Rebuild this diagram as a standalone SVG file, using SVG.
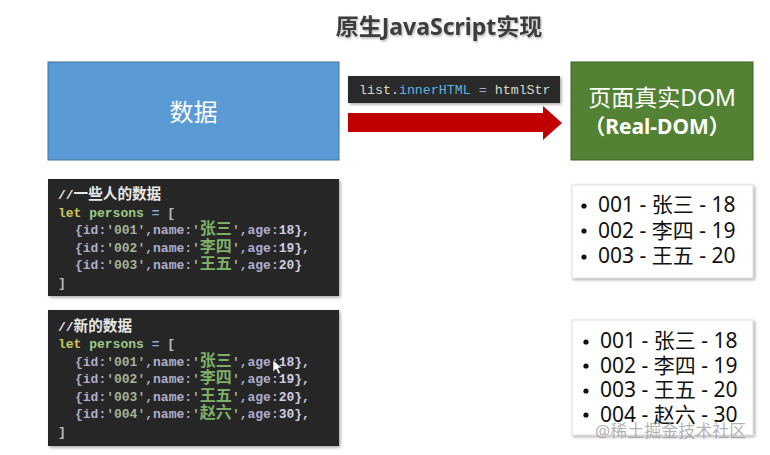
<svg xmlns="http://www.w3.org/2000/svg" width="770" height="455" viewBox="0 0 770 455">
<defs>
<filter id="sh" x="-10%" y="-10%" width="125%" height="130%">
<feDropShadow dx="1.5" dy="1.5" stdDeviation="1.8" flood-color="#000" flood-opacity="0.35"/>
</filter>
<filter id="tsh" x="-5%" y="-20%" width="110%" height="150%">
<feDropShadow dx="1" dy="1.5" stdDeviation="1.2" flood-color="#000" flood-opacity="0.3"/>
</filter>
</defs>
<style>
.code{font-family:"Liberation Mono","Noto Sans CJK SC",monospace;font-size:13px;font-weight:bold;fill:#aeaecb}
.cmt{fill:#e8e8e8}
.cjkc{font-family:"Noto Sans CJK SC",sans-serif;font-size:14.6px;font-weight:bold}
.kw{fill:#c8c85c}
.var{fill:#9cc98a}
.op{fill:#8fa9d6}
.br{fill:#bdbdbd}
.str{fill:#a3b39d}
.nm{fill:#7fae69;font-family:"Noto Sans CJK SC",sans-serif;font-size:16px}
.num{fill:#cfcfe6}
.list{font-family:"Noto Sans","Noto Sans CJK SC",sans-serif;font-size:21px;fill:#111}
.cbox{fill:#282828}
.lbox{fill:#fff;stroke:#d8d8d8;stroke-width:0.8}
</style>
<rect width="770" height="455" fill="#fff"/>

<g id="title">
<text x="439" y="35" text-anchor="middle" font-family="Noto Sans, Noto Sans CJK SC, sans-serif" font-size="23" font-weight="bold" fill="#3c3c3c" filter="url(#tsh)">原生JavaScript实现</text>
</g>

<g id="data">
<rect x="48" y="62" width="291" height="98" fill="#5b9bd5" stroke="#41719c" stroke-width="1"/>
<text x="193.5" y="121" text-anchor="middle" font-family="Noto Sans CJK SC, sans-serif" font-size="24" fill="#fff">数据</text>
</g>

<g id="realdom">
<rect x="571" y="62" width="182" height="98" fill="#548235" stroke="#3f6327" stroke-width="1"/>
<text x="662" y="106" text-anchor="middle" font-family="Noto Sans, Noto Sans CJK SC, sans-serif" font-size="23" fill="#fff">页面真实DOM</text>
<text x="657" y="134" text-anchor="middle" font-family="Noto Sans, Noto Sans CJK SC, sans-serif" font-size="21" font-weight="bold" fill="#fff">（Real-DOM）</text>
</g>

<g id="connectors">
<polygon points="348,113 543,113 543,106 562,123 543,140 543,132 348,132" fill="#c00000"/>
<g id="assign">
<rect x="348" y="76" width="212" height="27" fill="#2b2b2b" filter="url(#sh)"/>
<text x="359" y="94" font-family="Liberation Mono, monospace" font-size="13.3" fill="#d8d8c8">list.<tspan fill="#5fb3df">innerHTML</tspan><tspan fill="#a9a9d0"> = </tspan>htmlStr</text>
</g>
</g>

<g id="code1">
<rect class="cbox" x="48" y="179" width="291" height="117" filter="url(#sh)"/>
<text class="code cmt" x="58" y="199">//<tspan class="cjkc">一些人的数据</tspan></text>
<text class="code" x="58" y="216.5"><tspan class="kw">let</tspan> <tspan class="var">persons</tspan> <tspan class="op">=</tspan> <tspan class="br">[</tspan></text>
<text class="code" x="75" y="234">{id:<tspan class="str">'001'</tspan>,name:<tspan class="str">'</tspan><tspan class="nm">张三</tspan><tspan class="str">'</tspan>,age:<tspan class="num">18},</tspan></text>
<text class="code" x="75" y="251.5">{id:<tspan class="str">'002'</tspan>,name:<tspan class="str">'</tspan><tspan class="nm">李四</tspan><tspan class="str">'</tspan>,age:<tspan class="num">19},</tspan></text>
<text class="code" x="75" y="269">{id:<tspan class="str">'003'</tspan>,name:<tspan class="str">'</tspan><tspan class="nm">王五</tspan><tspan class="str">'</tspan>,age:<tspan class="num">20}</tspan></text>
<text class="code br" x="58" y="287">]</text>
</g>

<g id="code2">
<rect class="cbox" x="48" y="310" width="291" height="136" filter="url(#sh)"/>
<text class="code cmt" x="58" y="331">//<tspan class="cjkc">新的数据</tspan></text>
<text class="code" x="58" y="348"><tspan class="kw">let</tspan> <tspan class="var">persons</tspan> <tspan class="op">=</tspan> <tspan class="br">[</tspan></text>
<text class="code" x="75" y="365.5">{id:<tspan class="str">'001'</tspan>,name:<tspan class="str">'</tspan><tspan class="nm">张三</tspan><tspan class="str">'</tspan>,age:<tspan class="num">18},</tspan></text>
<text class="code" x="75" y="383">{id:<tspan class="str">'002'</tspan>,name:<tspan class="str">'</tspan><tspan class="nm">李四</tspan><tspan class="str">'</tspan>,age:<tspan class="num">19},</tspan></text>
<text class="code" x="75" y="400.5">{id:<tspan class="str">'003'</tspan>,name:<tspan class="str">'</tspan><tspan class="nm">王五</tspan><tspan class="str">'</tspan>,age:<tspan class="num">20},</tspan></text>
<text class="code" x="75" y="418">{id:<tspan class="str">'004'</tspan>,name:<tspan class="str">'</tspan><tspan class="nm">赵六</tspan><tspan class="str">'</tspan>,age:<tspan class="num">30},</tspan></text>
<text class="code br" x="58" y="435.5">]</text>
<path d="M273,360 L273,372 L276,369 L278.5,374 L280.5,373 L278,368 L282,368 Z" fill="#fff" stroke="#222" stroke-width="0.6"/>
</g>

<g id="list1">
<rect class="lbox" x="572" y="185" width="181" height="93" filter="url(#sh)"/>
<circle cx="584" cy="206" r="2.6" fill="#111"/>
<circle cx="584" cy="231" r="2.6" fill="#111"/>
<circle cx="584" cy="257" r="2.6" fill="#111"/>
<text class="list" x="598" y="212">001 - 张三 - 18</text>
<text class="list" x="598" y="237.5">002 - 李四 - 19</text>
<text class="list" x="598" y="263">003 - 王五 - 20</text>
</g>

<g id="list2">
<rect class="lbox" x="572" y="320" width="181" height="115" filter="url(#sh)"/>
<circle cx="586" cy="342" r="2.6" fill="#111"/>
<circle cx="586" cy="366" r="2.6" fill="#111"/>
<circle cx="586" cy="391" r="2.6" fill="#111"/>
<circle cx="586" cy="415" r="2.6" fill="#111"/>
<text class="list" x="600" y="348">001 - 张三 - 18</text>
<text class="list" x="600" y="372.5">002 - 李四 - 19</text>
<text class="list" x="600" y="397">003 - 王五 - 20</text>
<text class="list" x="600" y="421.5">004 - 赵六 - 30</text>
</g>

<g id="watermark">
<text x="595" y="437" font-family="Noto Sans, Noto Sans CJK SC, sans-serif" font-size="17" fill="#9a9a9a" fill-opacity="0.75">@稀土掘金技术社区</text>
</g>
</svg>
